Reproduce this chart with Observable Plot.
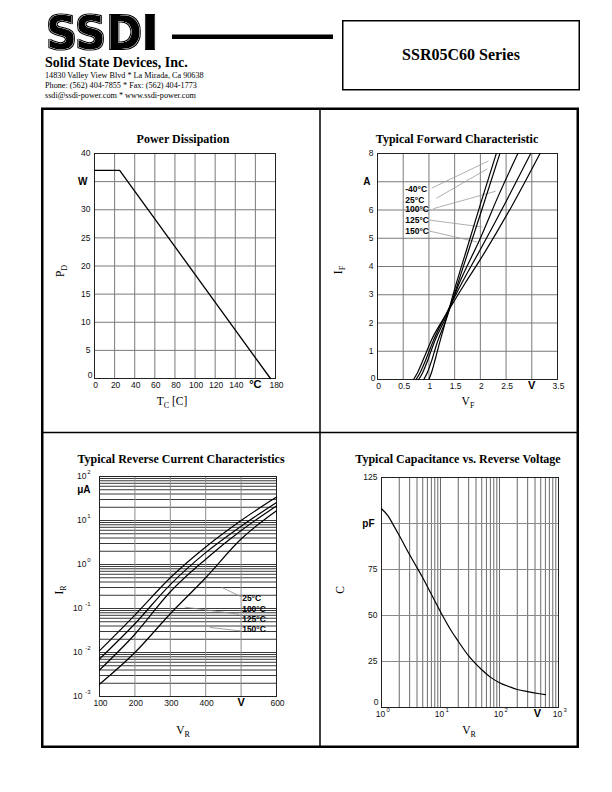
<!DOCTYPE html>
<html><head><meta charset="utf-8">
<script src="https://cdn.jsdelivr.net/npm/d3@7"></script>
<script src="https://cdn.jsdelivr.net/npm/@observablehq/plot@0.6"></script>
<style>
html,body{margin:0;padding:0;background:#fff;}
#page{position:relative;width:612px;height:792px;overflow:hidden;background:#fff;}
#overlay{position:absolute;left:0;top:0;z-index:5;pointer-events:none;font-family:"Liberation Serif","Times New Roman",serif;}
</style>
</head><body>
<div id="page">
<svg id="overlay" width="612" height="792" xmlns="http://www.w3.org/2000/svg">
  <defs>
    <filter id="inline" x="-5%" y="-10%" width="110%" height="120%">
      <feMorphology in="SourceAlpha" operator="dilate" radius="1.3" result="big"/>
      <feMorphology in="SourceAlpha" operator="dilate" radius="0.45" result="d1"/>
      <feMorphology in="SourceAlpha" operator="erode" radius="0.45" result="e1"/>
      <feComposite in="d1" in2="e1" operator="out" result="edge"/>
      <feFlood flood-color="#ffffff" result="white"/>
      <feComposite in="white" in2="edge" operator="in" result="whiteEdge"/>
      <feMerge><feMergeNode in="big"/><feMergeNode in="whiteEdge"/></feMerge>
    </filter>
  </defs>
  <!-- header -->
  <text x="46" y="49" font-family="DejaVu Sans" font-weight="bold" font-size="46" textLength="112" lengthAdjust="spacingAndGlyphs" fill="#000" filter="url(#inline)">SSDI</text>
  <rect x="172" y="34.5" width="161" height="4.5" fill="#000"/>
  <rect x="342.75" y="20.75" width="236.5" height="69" fill="none" stroke="#000" stroke-width="1.5"/>
  <text x="461" y="60" text-anchor="middle" font-weight="bold" font-size="16">SSR05C60 Series</text>
  <text x="45" y="67" font-weight="bold" font-size="14">Solid State Devices, Inc.</text>
  <text x="45" y="78" font-size="8.2">14830 Valley View Blvd  *  La Mirada, Ca 90638</text>
  <text x="45" y="88" font-size="8.2">Phone: (562) 404-7855  *  Fax: (562) 404-1773</text>
  <text x="45" y="98" font-size="8.2">ssdi@ssdi-power.com  *  www.ssdi-power.com</text>
  <!-- frame -->
  <rect x="42.25" y="108.75" width="535.5" height="638" fill="none" stroke="#000" stroke-width="2.5"/>
  <line x1="320" y1="109" x2="320" y2="747" stroke="#000" stroke-width="1.5"/>
  <line x1="42" y1="432.5" x2="578" y2="432.5" stroke="#000" stroke-width="1.5"/>
  <!-- titles -->
  <g font-weight="bold" font-size="12" text-anchor="middle">
    <text x="183" y="143">Power Dissipation</text>
    <text x="457" y="143">Typical Forward Characteristic</text>
    <text x="181" y="463">Typical Reverse Current Characteristics</text>
    <text x="458" y="463">Typical Capacitance vs. Reverse Voltage</text>
  </g>
  <!-- axis titles -->
  <g font-size="11.5">
    <text transform="translate(64,271) rotate(-90)" text-anchor="middle">P<tspan font-size="8" dy="2.5">D</tspan></text>
    <text x="172" y="405" text-anchor="middle">T<tspan font-size="8" dy="2.5">C</tspan><tspan dy="-2.5"> [C]</tspan></text>
    <text transform="translate(342,270) rotate(-90)" text-anchor="middle">I<tspan font-size="8" dy="2.5">F</tspan></text>
    <text x="468" y="405" text-anchor="middle">V<tspan font-size="8" dy="2.5">F</tspan></text>
    <text transform="translate(63,590) rotate(-90)" text-anchor="middle">I<tspan font-size="8" dy="2.5">R</tspan></text>
    <text x="183" y="734" text-anchor="middle">V<tspan font-size="8" dy="2.5">R</tspan></text>
    <text transform="translate(344,590) rotate(-90)" text-anchor="middle">C</text>
    <text x="469" y="734" text-anchor="middle">V<tspan font-size="8" dy="2.5">R</tspan></text>
  </g>
</svg>
</div>
<script>
// ================= DATA =================
// Power Dissipation
const pdTemp  = [0, 25, 175];
const pdPower = [37, 37, 0];
const pdXTicks  = [0, 20, 40, 60, 80, 100, 120, 140, 160, 180];
const pdXLabels = ["0","20","40","60","80","100","120","140","°C","180"];
const pdYTicks  = [0, 5, 10, 15, 20, 25, 30, 35, 40];
const pdYLabels = ["0","5","10","15","20","25","30","W","40"];

// Typical Forward Characteristic (V in volts, I in amps)
const fcTemps = ["-40°C", "25°C", "100°C", "125°C", "150°C"];
const fcVm40 = [1.00, 1.06, 1.12, 1.20, 1.33, 1.50, 1.75, 2.00, 2.31];
const fcIm40 = [0.00, 0.30, 0.70, 1.25, 2.10, 3.20, 4.70, 6.20, 8.00];
const fcV25  = [0.90, 0.97, 1.05, 1.15, 1.33, 1.50, 1.75, 2.00, 2.38];
const fcI25  = [0.00, 0.25, 0.65, 1.25, 2.10, 3.05, 4.45, 5.85, 8.00];
const fcV100 = [0.80, 0.88, 0.98, 1.10, 1.33, 1.60, 2.00, 2.35, 2.73];
const fcI100 = [0.00, 0.25, 0.70, 1.30, 2.20, 3.45, 5.00, 6.50, 8.00];
const fcV125 = [0.75, 0.83, 0.95, 1.08, 1.33, 1.65, 2.00, 2.50, 2.98];
const fcI125 = [0.00, 0.25, 0.75, 1.35, 2.30, 3.45, 4.60, 6.30, 8.00];
const fcV150 = [0.70, 0.78, 0.90, 1.05, 1.35, 1.70, 2.00, 2.60, 3.16];
const fcI150 = [0.00, 0.25, 0.75, 1.40, 2.35, 3.40, 4.25, 6.10, 8.00];
const fcXTicks  = [0, 0.5, 1, 1.5, 2, 2.5, 3, 3.5];
const fcXLabels = ["0","0.5","1","1.5","2","2.5","V","3.5"];
const fcYTicks  = [0, 1, 2, 3, 4, 5, 6, 7, 8];
const fcYLabels = ["0","1","2","3","4","5","6","A","8"];
// label anchor (V, I) and leader lines (V, I)
const fcLabelV = [0.54, 0.54, 0.54, 0.54, 0.54];
const fcLabelI = [6.73, 6.35, 6.03, 5.62, 5.24];
const fcLeadFromV = [1.06, 1.15, 1.09, 1.02, 1.02];
const fcLeadFromI = [6.78, 6.42, 6.05, 5.64, 5.25];
const fcLeadToV   = [2.15, 2.13, 2.29, 2.03, 1.93];
const fcLeadToI   = [7.73, 7.45, 6.66, 5.40, 4.87];

// Typical Reverse Current (V in volts, I in microamps)
const rcTemps = ["25°C", "100°C", "125°C", "150°C"];
const rcV  = [100, 200, 300, 400, 500, 600];
const rcIa = [0.011, 0.071, 0.50, 2.5, 10.0, 34.0];
const rcIb = [0.0071, 0.045, 0.35, 1.86, 7.4, 25.7];
const rcIc = [0.0040, 0.026, 0.24, 1.32, 5.9, 21.4];
const rcId = [0.0019, 0.010, 0.076, 0.50, 3.8, 16.6];
const rcXTicks  = [100, 200, 300, 400, 500, 600];
const rcXLabels = ["100","200","300","400","V","600"];
const rcYExp    = [2, 1, 0, -1, -2, -3];
const rcLabelV  = [503, 503, 503, 503];
const rcLabelI  = [0.17, 0.098, 0.056, 0.033];
const rcLeadFromV = [446, 342, 413];
const rcLeadFromI = [0.30, 0.107, 0.037];
const rcLeadToV   = [500, 493, 498];
const rcLeadToI   = [0.185, 0.074, 0.031];

// Typical Capacitance (V in volts, C in pF)
const capV = [1, 1.3, 1.6, 2, 3, 4, 5, 7, 10, 15, 20, 30, 50, 70, 100, 150, 200, 300, 450, 600];
const capC = [108, 104, 99, 93.5, 83, 76, 70.5, 61.5, 52, 42, 36, 28, 20.5, 16.5, 13.5, 11.2, 9.8, 8.6, 7.6, 7.0];
const capYTicks  = [0, 25, 50, 75, 100, 125];
const capYLabels = ["0","25","50","75","pF","125"];
const capXExp    = [0, 1, 2, 3];
const capUnitX   = 440;  // position of the "V" unit label

// ================= HELPERS =================
const page = document.getElementById("page");
const TF = "Liberation Sans, Arial, Helvetica, sans-serif";
const TS = 8.5;
const UNIT = 10;
const isUnit = s => isNaN(+s);

function place(svg, left, top) {
  svg.style.position = "absolute";
  svg.style.left = left + "px";
  svg.style.top = top + "px";
  page.appendChild(svg);
}
function yTickText(ticks, labels, zeroRaise, zeroDx = -2) {
  const d = ticks.map((v, i) => ({v, s: labels[i]}));
  return [
    Plot.text(d.filter((e, i) => !isUnit(e.s) && i > 0), {y: "v", text: "s", frameAnchor: "left", textAnchor: "end", dx: -4, fontSize: TS, fontFamily: TF, fill: "#111"}),
    Plot.text(d.filter((e, i) => i === 0), {y: "v", text: "s", frameAnchor: "left", textAnchor: "end", dx: zeroDx, dy: -zeroRaise, fontSize: TS, fontFamily: TF, fill: "#111"}),
    Plot.text(d.filter(e => isUnit(e.s)), {y: "v", text: "s", frameAnchor: "left", textAnchor: "end", dx: -7, fontSize: UNIT, fontWeight: "bold", fontFamily: TF, fill: "#000"})
  ];
}
function xTickText(ticks, labels) {
  const d = ticks.map((v, i) => ({v, s: labels[i]}));
  return [
    Plot.text(d.filter(e => !isUnit(e.s)), {x: "v", text: "s", frameAnchor: "bottom", lineAnchor: "top", dy: 3, dx: 1, fontSize: TS, fontFamily: TF, fill: "#111"}),
    Plot.text(d.filter(e => isUnit(e.s)), {x: "v", text: "s", frameAnchor: "bottom", lineAnchor: "top", dy: 2, fontSize: UNIT + 1, fontWeight: "bold", fontFamily: TF, fill: "#000"})
  ];
}
const baseStyle = {background: "transparent", overflow: "visible"};

// ================= CHART 1: Power Dissipation =================
{
  const line = pdTemp.map((t, i) => ({t, p: pdPower[i]}));
  const svg = Plot.plot({
    width: 272, height: 322,
    marginLeft: 48, marginRight: 43, marginTop: 43, marginBottom: 54,
    style: baseStyle,
    x: {domain: [0, 180], axis: null},
    y: {domain: [0, 40], axis: null},
    marks: [
      Plot.ruleX(pdXTicks.slice(1, -1), {stroke: "#7a7a7a", strokeWidth: 1}),
      Plot.ruleY(pdYTicks.slice(1, -1), {stroke: "#7a7a7a", strokeWidth: 1}),
      Plot.frame({stroke: "#222", strokeWidth: 1}),
      Plot.line(line, {x: "t", y: "p", stroke: "#000", strokeWidth: 1.3}),
      ...yTickText(pdYTicks, pdYLabels, 3),
      ...xTickText(pdXTicks, pdXLabels)
    ]
  });
  place(svg, 46, 110);
}

// ================= CHART 2: Forward Characteristic =================
{
  const series = [[fcVm40, fcIm40], [fcV25, fcI25], [fcV100, fcI100], [fcV125, fcI125], [fcV150, fcI150]];
  const pts = series.flatMap(([vs, is], k) => vs.map((v, i) => ({v, i: is[i], t: fcTemps[k]})));
  const labels = fcTemps.map((t, k) => ({t, v: fcLabelV[k], i: fcLabelI[k]}));
  const leads = fcTemps.flatMap((t, k) => [
    {t, v: fcLeadFromV[k], i: fcLeadFromI[k]},
    {t, v: fcLeadToV[k], i: fcLeadToI[k]}
  ]);
  const svg = Plot.plot({
    width: 272, height: 322,
    marginLeft: 55, marginRight: 37, marginTop: 43, marginBottom: 53,
    style: baseStyle,
    x: {domain: [0, 3.5], axis: null},
    y: {domain: [0, 8], axis: null},
    marks: [
      Plot.ruleX(fcXTicks.slice(1, -1), {stroke: "#7a7a7a", strokeWidth: 1}),
      Plot.ruleY(fcYTicks.slice(1, -1), {stroke: "#7a7a7a", strokeWidth: 1}),
      Plot.frame({stroke: "#222", strokeWidth: 1}),
      Plot.line(leads, {x: "v", y: "i", z: "t", stroke: "#9a9a9a", strokeWidth: 0.8}),
      Plot.line(pts, {x: "v", y: "i", z: "t", stroke: "#000", strokeWidth: 1.2, curve: "monotone-x"}),
      Plot.text(labels, {x: "v", y: "i", text: "t", textAnchor: "start", fontSize: 8.5, fontWeight: "bold", fontFamily: TF, fill: "#000"}),
      ...yTickText(fcYTicks, fcYLabels, 1),
      ...xTickText(fcXTicks, fcXLabels)
    ]
  });
  place(svg, 322, 110);
}

// ================= CHART 3: Reverse Current =================
{
  const series = [rcIa, rcIb, rcIc, rcId];
  const pts = series.flatMap((is, k) => rcV.map((v, j) => ({v, i: is[j], k})));
  const minor = d3.range(-3, 2).flatMap(e => d3.range(1, 10).map(m => m * 10 ** e)).filter(x => x > 1e-3);
  const labels = rcTemps.map((t, k) => ({t, v: rcLabelV[k], i: rcLabelI[k]}));
  const leads = rcLeadFromV.flatMap((v, k) => [{k, v, i: rcLeadFromI[k]}, {k, v: rcLeadToV[k], i: rcLeadToI[k]}]);
  const ex = rcYExp.map(e => ({y: 10 ** e, e: String(e), neg: e < 0}));
  const svg = Plot.plot({
    width: 272, height: 320,
    marginLeft: 53, marginRight: 42, marginTop: 41, marginBottom: 59,
    style: baseStyle,
    x: {domain: [100, 600], axis: null},
    y: {type: "log", domain: [1e-3, 1e2], axis: null},
    marks: [
      Plot.ruleY(minor, {stroke: "#3a3a3a", strokeWidth: 1}),
      Plot.ruleX(rcXTicks.slice(1, -1), {stroke: "#8a8a8a", strokeWidth: 1}),
      Plot.frame({stroke: "#222", strokeWidth: 1}),
      Plot.line(leads, {x: "v", y: "i", z: "k", stroke: "#8a8a8a", strokeWidth: 0.8}),
      Plot.line(pts, {x: "v", y: "i", z: "k", stroke: "#000", strokeWidth: 1.2, curve: "monotone-x"}),
      Plot.text(labels, {x: "v", y: "i", text: "t", textAnchor: "start", fontSize: 8.5, fontWeight: "bold", fontFamily: TF, fill: "#000"}),
      // y tick labels 10^e
      Plot.text(ex.filter(d => !d.neg), {y: "y", text: () => "10", frameAnchor: "left", textAnchor: "end", dx: -13, fontSize: TS, fontFamily: TF, fill: "#111"}),
      Plot.text(ex.filter(d => d.neg), {y: "y", text: () => "10", frameAnchor: "left", textAnchor: "end", dx: -17, fontSize: TS, fontFamily: TF, fill: "#111"}),
      Plot.text(ex, {y: "y", text: "e", frameAnchor: "left", textAnchor: "end", dx: -9, dy: -4, fontSize: 6, fontFamily: TF, fill: "#111"}),
      Plot.text([50], {y: d => d, text: () => "μA", frameAnchor: "left", textAnchor: "end", dx: -9, fontSize: UNIT, fontWeight: "bold", fontFamily: TF, fill: "#000"}),
      ...xTickText(rcXTicks, rcXLabels)
    ]
  });
  place(svg, 46, 435);
}

// ================= CHART 4: Capacitance =================
{
  const pts = capV.map((v, i) => ({v, c: capC[i]}));
  const minor = d3.range(0, 3).flatMap(e => d3.range(1, 10).map(m => m * 10 ** e)).filter(x => x > 1);
  const ex = capXExp.map(e => ({x: 10 ** e, e: String(e)}));
  const svg = Plot.plot({
    width: 272, height: 320,
    marginLeft: 59, marginRight: 36, marginTop: 42, marginBottom: 48,
    style: baseStyle,
    x: {type: "log", domain: [1, 1000], axis: null},
    y: {domain: [0, 125], axis: null},
    marks: [
      Plot.ruleX(minor, {stroke: "#6a6a6a", strokeWidth: 1}),
      Plot.ruleY(capYTicks.slice(1, -1), {stroke: "#8a8a8a", strokeWidth: 1}),
      Plot.frame({stroke: "#222", strokeWidth: 1}),
      Plot.line(pts, {x: "v", y: "c", stroke: "#000", strokeWidth: 1.2, curve: "monotone-x"}),
      ...yTickText(capYTicks, capYLabels, 5, -3),
      Plot.text(ex, {x: "x", text: () => "10", frameAnchor: "bottom", lineAnchor: "top", dy: 3, dx: -1, fontSize: TS, fontFamily: TF, fill: "#111"}),
      Plot.text(ex, {x: "x", text: "e", frameAnchor: "bottom", lineAnchor: "top", textAnchor: "start", dy: 0, dx: 5, fontSize: 6, fontFamily: TF, fill: "#111"}),
      Plot.text([capUnitX], {x: d => d, text: () => "V", frameAnchor: "bottom", lineAnchor: "top", dy: 2, fontSize: UNIT + 1, fontWeight: "bold", fontFamily: TF, fill: "#000"})
    ]
  });
  place(svg, 322, 435);
}
</script>
</body></html>
